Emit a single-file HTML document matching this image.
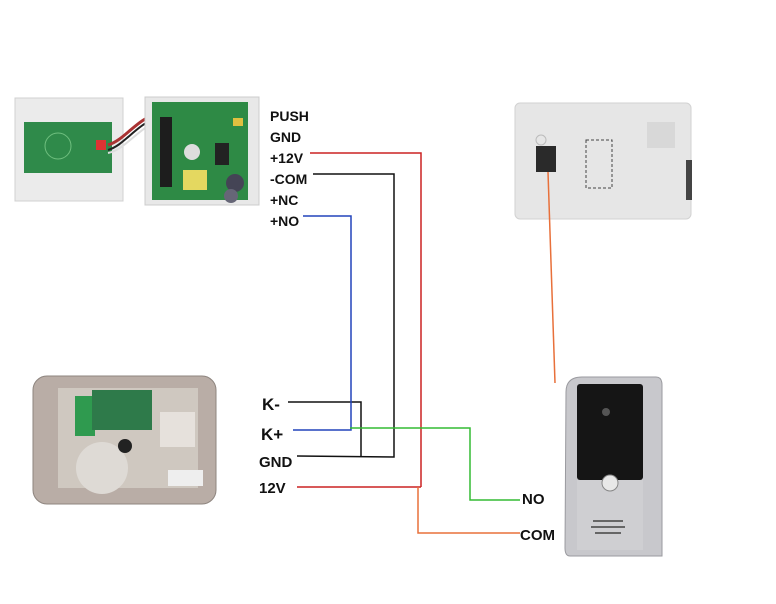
<!DOCTYPE html>
<html><head><style>
html,body{margin:0;padding:0;background:#fff;width:776px;height:604px;overflow:hidden}
svg{display:block}
text{font-family:"Liberation Sans",sans-serif;font-weight:bold;fill:#111}
</style></head><body>
<svg width="776" height="604" viewBox="0 0 776 604" xmlns="http://www.w3.org/2000/svg">
<!-- access controller left box -->
<rect x="15" y="98" width="108" height="103" fill="#ebebeb" stroke="#d0d0d0"/>
<rect x="24" y="122" width="88" height="51" fill="#2f8a4a"/>
<circle cx="58" cy="146" r="13" fill="none" stroke="#6fbf7f"/>
<rect x="96" y="140" width="10" height="10" fill="#d33"/>
<!-- wires between -->
<path d="M108 145 C125 140 135 120 160 112" stroke="#a33" stroke-width="3" fill="none"/>
<path d="M108 150 C125 145 135 125 160 116" stroke="#222" stroke-width="2" fill="none"/>
<path d="M108 153 C125 150 138 128 160 120" stroke="#ddd" stroke-width="2" fill="none"/>
<!-- right box -->
<rect x="145" y="97" width="114" height="108" fill="#e8e8e8" stroke="#ccc"/>
<rect x="152" y="102" width="96" height="98" fill="#2e8a45"/>
<rect x="160" y="117" width="12" height="70" fill="#1d1d1d"/>
<circle cx="192" cy="152" r="8" fill="#ddd"/>
<rect x="183" y="170" width="24" height="20" fill="#e4d860"/>
<rect x="233" y="118" width="10" height="8" fill="#e0c040"/>
<circle cx="235" cy="183" r="9" fill="#445"/>
<circle cx="231" cy="196" r="7" fill="#667"/>
<rect x="215" y="143" width="14" height="22" fill="#222"/>
<!-- labels top -->
<text x="270" y="121" font-size="14">PUSH</text>
<text x="270" y="142" font-size="14">GND</text>
<text x="270" y="163" font-size="14">+12V</text>
<text x="270" y="184" font-size="14">-COM</text>
<text x="270" y="205" font-size="14">+NC</text>
<text x="270" y="226" font-size="14">+NO</text>
<!-- monitor -->
<rect x="515" y="103" width="176" height="116" rx="5" fill="#e6e6e6" stroke="#d2d2d2"/>
<rect x="536" y="146" width="20" height="26" fill="#2a2a2a"/>
<circle cx="541" cy="140" r="5" fill="none" stroke="#bbb"/>
<rect x="586" y="140" width="26" height="48" fill="none" stroke="#444" stroke-dasharray="3,2"/>
<rect x="647" y="122" width="28" height="26" fill="#d8d8d8"/>
<rect x="686" y="160" width="6" height="40" fill="#444"/>
<!-- orange monitor wire -->
<line x1="548" y1="172" x2="555" y2="383" stroke="#e8703a" stroke-width="1.5"/>
<!-- lock -->
<rect x="33" y="376" width="183" height="128" rx="14" fill="#b9ada6" stroke="#8e857f"/>
<rect x="58" y="388" width="140" height="100" fill="#cfc8c0"/>
<rect x="75" y="396" width="20" height="40" fill="#2f9a4f"/>
<rect x="92" y="390" width="60" height="40" fill="#2e7a4a"/>
<circle cx="102" cy="468" r="26" fill="#dedad5"/>
<circle cx="125" cy="446" r="7" fill="#222"/>
<rect x="160" y="412" width="35" height="35" fill="#e6e1dc"/>
<rect x="168" y="470" width="35" height="16" fill="#eeeeee"/>
<!-- door station -->
<path d="M566 392 Q566 377 582 377 L656 377 Q662 377 662 385 L662 556 L570 556 Q565 556 565 548 Z" fill="#c8c8cc" stroke="#9a9a9f"/>
<rect x="577" y="384" width="66" height="96" rx="3" fill="#151515"/>
<path d="M577 480 L643 480 L643 550 L577 550 Z" fill="#cfcfd2"/>
<circle cx="610" cy="483" r="8" fill="#e8e8e8" stroke="#888"/>
<circle cx="606" cy="412" r="4" fill="#555"/>
<g fill="#666"><rect x="593" y="520" width="30" height="2"/><rect x="591" y="526" width="34" height="2"/><rect x="595" y="532" width="26" height="2"/></g>
<!-- wires -->
<g fill="none" stroke-width="1.5">
<path d="M310 153 L421 153 L421 487" stroke="#cc2222"/>
<path d="M297 487 L421 487" stroke="#cc2222"/>
<path d="M418 487 L418 533 L520 533" stroke="#e8703a"/>
<path d="M313 174 L394 174 L394 457 L297 456" stroke="#111"/>
<path d="M288 402 L361 402 L361 456" stroke="#111"/>
<path d="M303 216 L351 216 L351 430 L293 430" stroke="#2244bb"/>
<path d="M350 428 L470 428 L470 500 L520 500" stroke="#33bb33"/>
</g>
<!-- labels bottom -->
<text x="262" y="410" font-size="17">K-</text>
<text x="261" y="440" font-size="17">K+</text>
<text x="259" y="467" font-size="15">GND</text>
<text x="259" y="493" font-size="15">12V</text>
<text x="522" y="504" font-size="15">NO</text>
<text x="520" y="540" font-size="15">COM</text>
</svg>
</body></html>
